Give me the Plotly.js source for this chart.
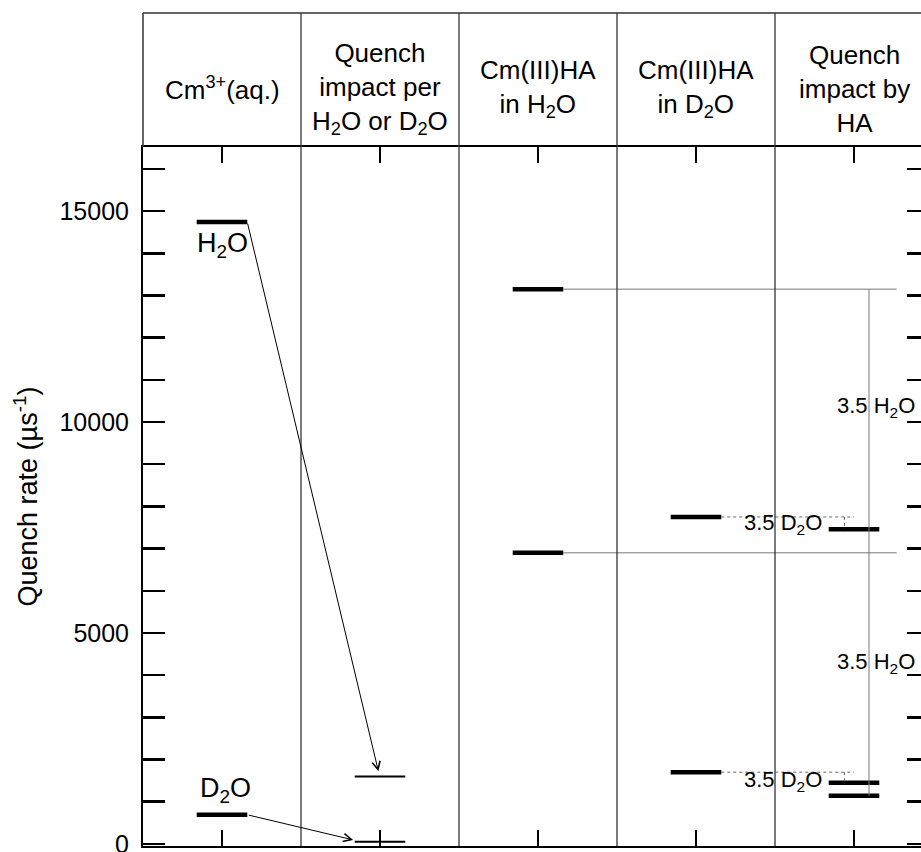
<!DOCTYPE html>
<html><head><meta charset="utf-8">
<script src="https://cdn.plot.ly/plotly-3.0.1.min.js"></script>
<style>html,body{margin:0;padding:0;background:#fff}</style>
</head><body><div id="chart" style="width:921px;height:852px"></div>
<script>
// ---- data ----
const columnLabels = [
  "Cm<sup>3+</sup>(aq.)",
  "Quench<br>impact per<br>H<sub>2</sub>O or D<sub>2</sub>O",
  "Cm(III)HA<br>in H<sub>2</sub>O",
  "Cm(III)HA<br>in D<sub>2</sub>O",
  "Quench<br>impact by<br>HA"
];
const aqLevels = [14740, 690];            // Cm3+(aq.): H2O, D2O
const perMoleculeLevels = [1600, 50];     // quench impact per H2O / D2O
const haH2OLevels = [13150, 6900];        // Cm(III)HA in H2O
const haD2OLevels = [7750, 1700];         // Cm(III)HA in D2O
const haImpactLevels = [7460, 1450, 1140];// quench impact by HA
const arrowTipX = [1.49, 1.33];
const arrowTipY = [1720, 95];
const waterLabels = ["H<sub>2</sub>O", "D<sub>2</sub>O"];
const diffLabelsH2O = ["3.5 H<sub>2</sub>O", "3.5 H<sub>2</sub>O"];
const diffLabelsD2O = ["3.5 D<sub>2</sub>O", "3.5 D<sub>2</sub>O"];
const diffLabelH2OY = [10355, 4290];
const diffLabelD2OY = [7580, 1480];
const yTickVals = [];
const yTickText = [];
for (let v = 0; v <= 16000; v += 1000) { yTickVals.push(v); yTickText.push(v % 5000 === 0 ? String(v) : ""); }

// ---- helpers ----
const HW = 0.16;
function segs(col, vals) {
  const x = [], y = [];
  vals.forEach(v => { x.push(col + 0.5 - HW, col + 0.5 + HW, null); y.push(v, v, null); });
  return {x, y};
}
function merge(list) {
  const x = [], y = [];
  list.forEach(s => { x.push(...s.x); y.push(...s.y); });
  return {x, y};
}
const thick = merge([segs(0, aqLevels), segs(2, haH2OLevels), segs(3, haD2OLevels), segs(4, haImpactLevels)]);
const thin = segs(1, perMoleculeLevels);

// gray connectors
const connX = [], connY = [];
haH2OLevels.forEach(v => { connX.push(2.5 + HW, 4.77, null); connY.push(v, v, null); });
connX.push(4.595, 4.595, null); connY.push(haH2OLevels[0], haImpactLevels[2], null);

// dotted connectors
const dotX = [], dotY = [];
haD2OLevels.forEach((v, i) => {
  const target = i === 0 ? haImpactLevels[0] : haImpactLevels[1];
  dotX.push(3.5 + HW, 4.5, null); dotY.push(v, v, null);
  dotX.push(4.44, 4.44, null); dotY.push(v, target, null);
});

const FONT = "Liberation Sans, Arial, sans-serif";
const traces = [
  {x: thick.x, y: thick.y, mode: "lines", line: {color: "#000", width: 4.5}, hoverinfo: "skip", showlegend: false},
  {x: thin.x, y: thin.y, mode: "lines", line: {color: "#000", width: 2}, hoverinfo: "skip", showlegend: false},
  {x: connX, y: connY, mode: "lines", line: {color: "#777", width: 1}, hoverinfo: "skip", showlegend: false},
  {x: dotX, y: dotY, mode: "lines", line: {color: "#666", width: 1, dash: "dot"}, hoverinfo: "skip", showlegend: false},
  {x: [0.5], y: [0], yaxis: "y2", mode: "markers", marker: {opacity: 0}, hoverinfo: "skip", showlegend: false}
];

const plotTopPx = 147, plotBotPx = 846, headerTopPx = 13;
const plotH = plotBotPx - plotTopPx;
const headerTop = (plotBotPx - headerTopPx) / plotH;
const headerMid = (plotBotPx - 89) / plotH;

const shapes = [];
for (let k = 1; k <= 4; k++) {
  shapes.push({type: "line", xref: "x", yref: "paper", x0: k, x1: k, y0: 0, y1: headerTop, line: {color: "#333", width: 1.3}});
}
shapes.push({type: "line", xref: "paper", yref: "paper", x0: 0, x1: 1, y0: headerTop, y1: headerTop, line: {color: "#333", width: 1.5}});
shapes.push({type: "line", xref: "paper", yref: "paper", x0: 0, x1: 0, y0: 1, y1: headerTop, line: {color: "#333", width: 1.5}});

const annotations = [];
columnLabels.forEach((t, i) => annotations.push({
  xref: "x", yref: "paper", x: i + 0.5, y: headerMid, text: t, showarrow: false,
  yanchor: "middle", xanchor: "center", font: {family: FONT, size: 26, color: "#000"}
}));
// arrows
aqLevels.forEach((v, i) => annotations.push({
  xref: "x", yref: "y", axref: "x", ayref: "y", x: arrowTipX[i], y: arrowTipY[i], ax: 0.5 + HW, ay: v,
  text: "", showarrow: true, arrowhead: 5, arrowsize: 1.6, arrowwidth: 1, arrowcolor: "#000", standoff: 0, startstandoff: 0
}));
annotations.push({xref: "x", yref: "y", x: 0.5, y: aqLevels[0], yshift: -4, yanchor: "top", text: waterLabels[0], showarrow: false, font: {family: FONT, size: 27, color: "#000"}});
annotations.push({xref: "x", yref: "y", x: 0.52, y: aqLevels[1], yshift: 6, yanchor: "bottom", text: waterLabels[1], showarrow: false, font: {family: FONT, size: 27, color: "#000"}});
diffLabelsH2O.forEach((t, i) => annotations.push({xref: "x", yref: "y", x: 4.64, y: diffLabelH2OY[i], text: t, showarrow: false, font: {family: FONT, size: 22, color: "#000"}}));
diffLabelsD2O.forEach((t, i) => annotations.push({xref: "x", yref: "y", x: 4.05, y: diffLabelD2OY[i], text: t, showarrow: false, font: {family: FONT, size: 22, color: "#000"}}));

const yRange = [-50, 16520];
const layout = {
  width: 921, height: 852,
  margin: {l: 143, r: 0, t: plotTopPx, b: 852 - plotBotPx},
  paper_bgcolor: "#fff", plot_bgcolor: "#fff",
  font: {family: FONT, size: 25, color: "#000"},
  showlegend: false,
  xaxis: {range: [0, 778 / 158], tickvals: [0.5, 1.5, 2.5, 3.5, 4.5], ticks: "inside", ticklen: 16, tickwidth: 2,
    tickcolor: "#000", showticklabels: false, showline: true, linewidth: 2, linecolor: "#000", mirror: "ticks",
    showgrid: false, zeroline: false, fixedrange: true},
  yaxis: {range: yRange, tickvals: yTickVals, ticktext: yTickText, ticks: "inside", ticklen: 22, tickwidth: 2.5,
    tickcolor: "#000", showline: true, linewidth: 2, linecolor: "#000", showgrid: false, zeroline: false,
    ticklabelstandoff: 7, ticklabeloverflow: "allow",
    tickfont: {family: FONT, size: 25, color: "#000"},
    title: {text: "Quench rate (µs<sup>-1</sup>)", font: {family: FONT, size: 27, color: "#000"}, standoff: 14}},
  yaxis2: {range: yRange, overlaying: "y", side: "right", tickvals: yTickVals, ticks: "inside", ticklen: 14, tickwidth: 2.5,
    tickcolor: "#000", showticklabels: false, showline: false, showgrid: false, zeroline: false},
  shapes, annotations
};
Plotly.newPlot("chart", traces, layout, {staticPlot: true, displayModeBar: false});
</script></body></html>
